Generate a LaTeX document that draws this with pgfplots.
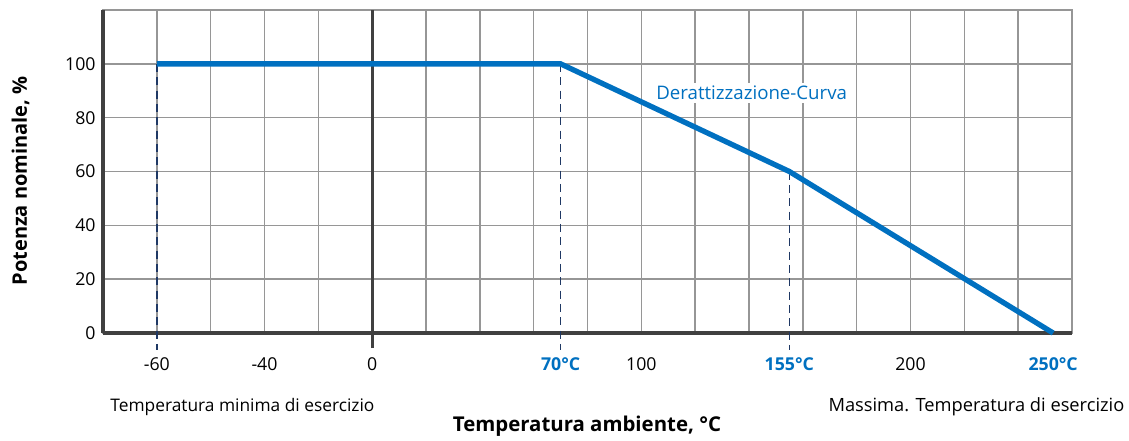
\documentclass[border=0pt]{standalone}
\usepackage{fontspec}
\setmainfont{Open Sans}
\usepackage{pgfplots}
\pgfplotsset{compat=1.18}
\definecolor{cblue}{RGB}{0,112,192}
\definecolor{cgrid}{RGB}{150,150,150}
\definecolor{caxis}{RGB}{64,64,64}
\definecolor{cdash}{RGB}{31,56,100}
\begin{document}
\begin{tikzpicture}
\begin{axis}[
  name=ax,
  scale only axis,
  width=726.75pt, height=242.25pt,
  xmin=-100, xmax=260, ymin=0, ymax=120,
  axis line style={draw=cgrid, line width=1.1pt},
  xtick={-80,-40,0,70,100,155,200,253},
  xticklabels={-60,-40,0,{\color{cblue}\bfseries 70°C},100,{\color{cblue}\bfseries 155°C},200,{\color{cblue}\bfseries 250°C}},
  minor xtick={-80,-60,...,240},
  ytick={0,20,...,100},
  minor ytick={},
  xmajorgrids=false, xminorgrids=true, ymajorgrids=true,
  grid style={draw=cgrid, line width=1.1pt},
  minor grid style={draw=cgrid, line width=1.1pt},
  major tick length=0pt, minor tick length=0pt,
  tick label style={font=\fontsize{13.3}{15}\selectfont, text=black},
  xticklabel style={yshift=-15pt},
  yticklabel style={xshift=-2pt},
  /pgf/number format/assume math mode=true,
  ylabel={\bfseries Potenza nominale, \%},
  ylabel style={font=\fontsize{15}{17}\selectfont, yshift=20pt, xshift=-7pt},
  clip=false,
]
% dark axis lines
\draw[caxis, line width=2.4pt] (axis cs:-100,0) -- (axis cs:260,0);
\draw[caxis, line width=2.4pt] (axis cs:-100,0) -- (axis cs:-100,120);
\draw[caxis, line width=2.4pt] (axis cs:0,-5.6) -- (axis cs:0,120);
% dashed guides
\draw[cdash, line width=1.2pt, dash pattern=on 6pt off 4pt] (axis cs:-80,100) -- (axis cs:-80,-6.3);
\draw[cdash, line width=1.2pt, dash pattern=on 6pt off 4pt] (axis cs:70,100) -- (axis cs:70,-6.3);
\draw[cdash, line width=1.2pt, dash pattern=on 6pt off 4pt] (axis cs:155,60) -- (axis cs:155,-6.3);
% curve
\addplot[cblue, line width=4pt, line join=miter] coordinates {(-80,100) (70,100) (155,60) (253,0)};
\node[fill=white, inner sep=2pt, text=cblue, font=\fontsize{14}{16}\selectfont] at (axis cs:141,89.2) {Derattizzazione-Curva};
\node[font=\fontsize{13}{15}\selectfont] at (axis cs:-48.2,-27.5) {Temperatura minima di esercizio};
\node[font=\fontsize{13.7}{15}\selectfont] at (axis cs:224.5,-27.5) {Massima. Temperatura di esercizio};
\node[font=\fontsize{15.3}{17}\selectfont\bfseries] at (axis cs:79.8,-34.6) {Temperatura ambiente, °C};
\end{axis}
\path (ax.south west) ++(-77.25pt,-76.5pt) rectangle ++(846.75pt,326.25pt);
\end{tikzpicture}
\end{document}
